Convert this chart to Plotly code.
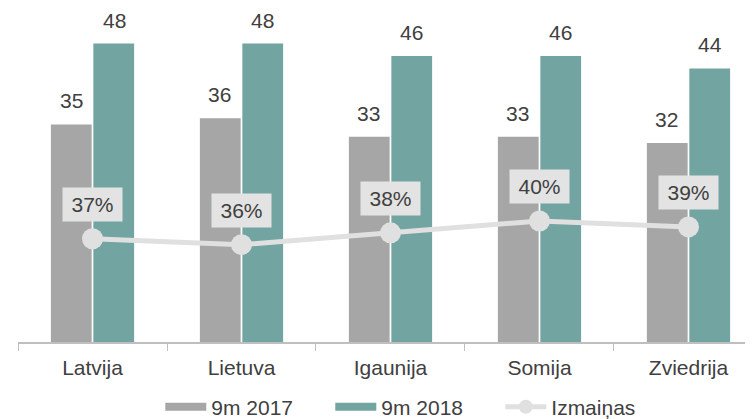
import plotly.graph_objects as go

categories = ["Latvija", "Lietuva", "Igaunija", "Somija", "Zviedrija"]
values_2017 = [35, 36, 33, 33, 32]
values_2018 = [48, 48, 46, 46, 44]
change_pct = [37, 36, 38, 40, 39]

name_2017 = "9m 2017"
name_2018 = "9m 2018"
name_change = "Izmaiņas"

GREY = "#a6a6a6"
TEAL = "#72a4a2"
LINE = "#e0e0e0"
TXT = "#404040"
FONT = "Liberation Sans, Arial, sans-serif"
FS = 21

fig = go.Figure()
fig.add_trace(go.Bar(x=categories, y=values_2017, name=name_2017, showlegend=False,
                     marker=dict(color=GREY, line=dict(width=0))))
fig.add_trace(go.Bar(x=categories, y=values_2018, name=name_2018, showlegend=False,
                     marker=dict(color=TEAL, line=dict(width=0))))
fig.add_trace(go.Scatter(x=categories, y=change_pct, name=name_change, yaxis="y2",
                         mode="lines+markers", showlegend=False,
                         line=dict(color=LINE, width=5),
                         marker=dict(color=LINE, size=21)))
# legend-only entries (wide swatches like the reference)
fig.add_trace(go.Scatter(x=[None], y=[None], name=name_2017, mode="lines",
                         line=dict(color=GREY, width=8)))
fig.add_trace(go.Scatter(x=[None], y=[None], name=name_2018, mode="lines",
                         line=dict(color=TEAL, width=8)))
fig.add_trace(go.Scatter(x=[None], y=[None], name=name_change, mode="lines+markers",
                         line=dict(color=LINE, width=5), marker=dict(color=LINE, size=14)))

annotations = []
for c, v in zip(categories, values_2017):
    annotations.append(dict(x=c, y=v, xref="x", yref="y", text=str(v), showarrow=False,
                            xshift=-21.5, yanchor="bottom", yshift=10,
                            font=dict(size=FS, color=TXT, family=FONT)))
for c, v in zip(categories, values_2018):
    annotations.append(dict(x=c, y=v, xref="x", yref="y", text=str(v), showarrow=False,
                            xshift=21.5, yanchor="bottom", yshift=10,
                            font=dict(size=FS, color=TXT, family=FONT)))
for c, v in zip(categories, change_pct):
    annotations.append(dict(x=c, y=v, xref="x", yref="y2", text=f"{v}%", showarrow=False,
                            yanchor="middle", yshift=34.5, width=57, height=31,
                            bgcolor="#e3e3e3", borderpad=1,
                            font=dict(size=FS, color=TXT, family=FONT)))

# The page body has an 8px default margin, so the figure is sized/offset to compensate.
fig.update_layout(
    width=745, height=411,
    margin=dict(l=10, r=0, t=2, b=77, autoexpand=False),
    paper_bgcolor="white", plot_bgcolor="white",
    barmode="group", bargap=0.43, bargroupgap=0.04,
    font=dict(family=FONT, size=FS, color=TXT),
    showlegend=True,
    legend=dict(orientation="h", x=0.1936, xanchor="left", y=-0.196, yanchor="middle",
                font=dict(size=FS, color=TXT, family=FONT), traceorder="normal",
                itemwidth=41, entrywidth=114, entrywidthmode="pixels", itemclick=False),
    xaxis=dict(range=[-0.5, 4.433], showline=True, linecolor="#bfbfbf", linewidth=1.5,
               ticks="outside", tickson="boundaries", ticklen=7, tickcolor="#bfbfbf",
               ticklabelstandoff=6,
               tickfont=dict(size=FS, color=TXT, family=FONT), showgrid=False,
               automargin=False, fixedrange=True),
    yaxis=dict(range=[0, 53.4], visible=False, showgrid=False, automargin=False),
    yaxis2=dict(range=[19.5, 75.76], overlaying="y", visible=False, showgrid=False,
                automargin=False),
    annotations=annotations,
)

fig.write_html("out.html")
